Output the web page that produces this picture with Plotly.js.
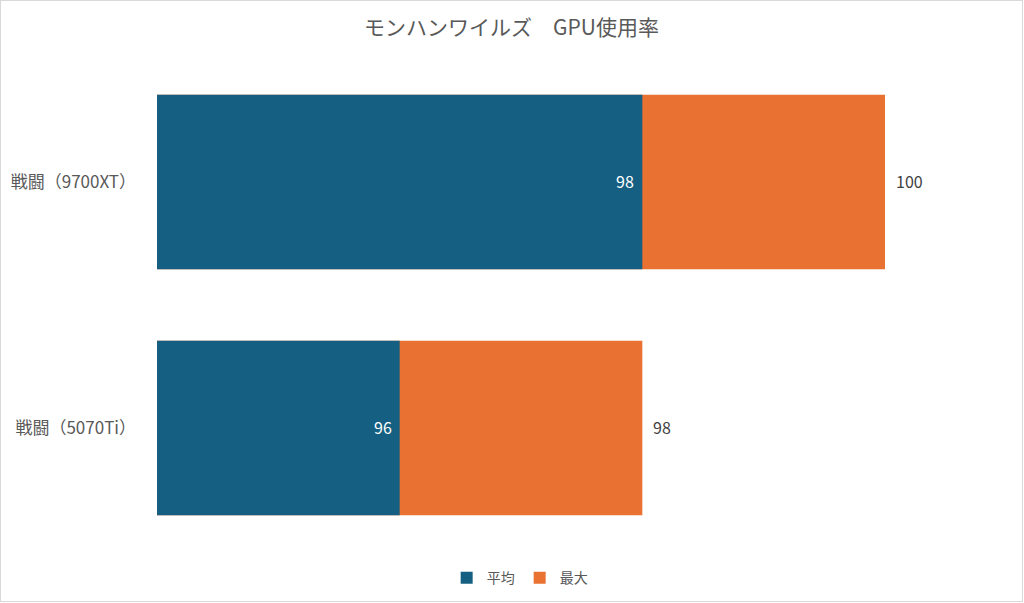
<!DOCTYPE html>
<html>
<head>
<meta charset="utf-8">
<script src="https://cdn.plot.ly/plotly-3.0.1.min.js"></script>
<style>
html,body{margin:0;padding:0;background:#fff;}
#chart{width:1021px;height:600px;border:1px solid #d9d9d9;}
</style>
</head>
<body>
<div id="chart"></div>
<script>
const categories = ['戦闘（5070Ti）', '戦闘（9700XT）'];
const avgValues = [96, 98];
const maxValues = [98, 100];
const seriesNames = ['平均', '最大'];
const titleText = 'モンハンワイルズ　GPU使用率';

const font = 'Noto Sans CJK JP, Noto Sans, sans-serif';

const traceMax = {
  type: 'bar', orientation: 'h',
  y: categories, x: maxValues, name: seriesNames[1],
  marker: {color: '#E97132'},
  width: 0.71, hoverinfo: 'x+name'
};
const traceAvg = {
  type: 'bar', orientation: 'h',
  y: categories, x: avgValues, name: seriesNames[0],
  marker: {color: '#156082'},
  width: 0.71, hoverinfo: 'x+name'
};

const annotations = [];
categories.forEach((c, i) => {
  annotations.push({
    x: avgValues[i], y: c, xref: 'x', yref: 'y', text: String(avgValues[i]),
    showarrow: false, xanchor: 'right', yanchor: 'middle', xshift: -6, yshift: 1,
    font: {color: '#ffffff', size: 16, family: font}
  });
  annotations.push({
    x: maxValues[i], y: c, xref: 'x', yref: 'y', text: String(maxValues[i]),
    showarrow: false, xanchor: 'left', yanchor: 'middle', xshift: 9, yshift: 1,
    font: {color: '#404040', size: 16, family: font}
  });
});

const layout = {
  width: 1021, height: 600,
  margin: {l: 156, r: 137, t: 58, b: 50, autoexpand: false},
  paper_bgcolor: '#ffffff', plot_bgcolor: '#ffffff',
  font: {family: font, color: '#595959', size: 15},
  title: {text: titleText, x: 0.5, xref: 'container', y: 0.955, yanchor: 'middle',
          font: {size: 21, color: '#595959', family: font}},
  barmode: 'overlay',
  showlegend: true,
  legend: {orientation: 'h', x: 0.508, xanchor: 'center', xref: 'container',
           y: 0.038, yanchor: 'middle', yref: 'container',
           font: {size: 14, color: '#595959', family: font}, traceorder: 'reversed',
           itemwidth: 30},
  annotations: annotations,
  xaxis: {range: [94, 100], visible: false, fixedrange: true},
  yaxis: {type: 'category', range: [-0.5, 1.5], showgrid: false, zeroline: false, showline: false,
          ticks: '', ticklabelstandoff: 20, automargin: false,
          tickfont: {size: 17, color: '#595959', family: font}}
};

Plotly.newPlot('chart', [traceMax, traceAvg], layout, {displayModeBar: false, staticPlot: true});
</script>
</body>
</html>
